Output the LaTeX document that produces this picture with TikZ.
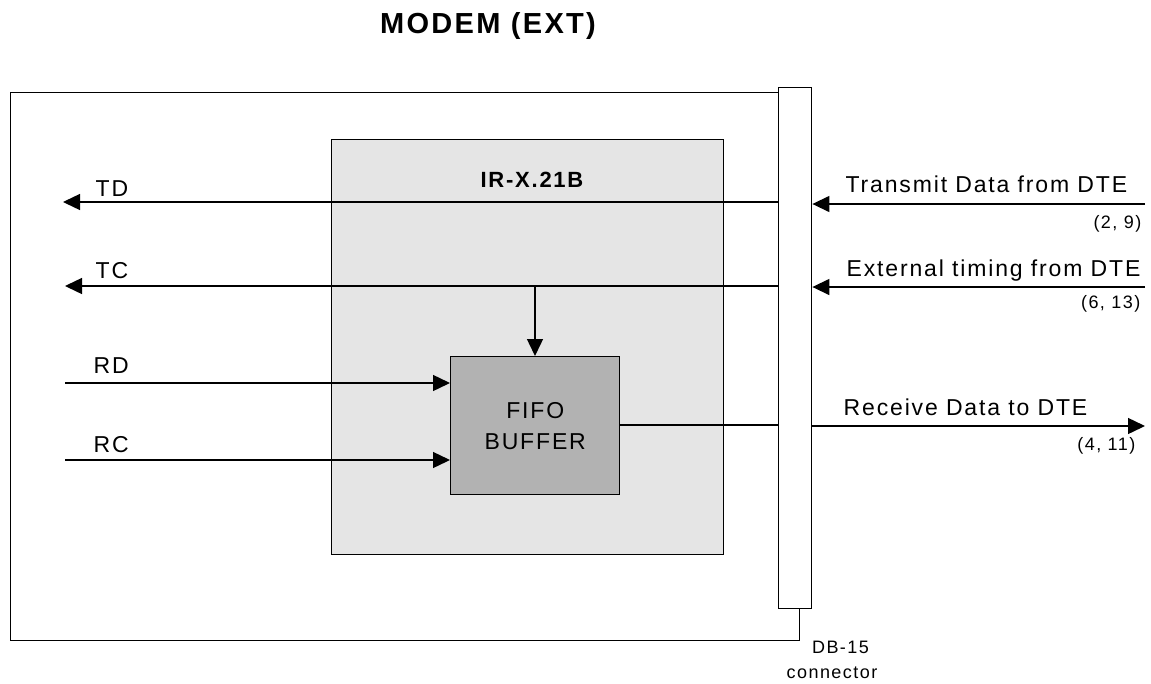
\documentclass[tikz,border=0pt]{standalone}
\usepackage{fontspec}
\setmainfont{Liberation Sans}[LetterSpace=8]
\usetikzlibrary{arrows.meta}

\begin{document}
\begin{tikzpicture}[x=1pt,y=-1pt,line width=1.4pt,
    sig/.style={-{Triangle[length=17pt,width=16pt]}},
    lbl/.style={font=\fontsize{23}{25}\selectfont,inner sep=0pt},
    pinlbl/.style={font=\fontsize{18}{20}\selectfont,inner sep=0pt},
    boxlbl/.style={font=\bfseries\fontsize{22}{24}\selectfont,inner sep=0pt}]
  \useasboundingbox (0,0) rectangle (1151,683);
  % title
  \node[font=\bfseries\fontsize{29}{32}\selectfont,inner sep=0pt,anchor=base] (title) at (488,33) {MODEM (EXT)};
  % modem case
  \node[draw,minimum width=789pt,minimum height=548pt,inner sep=0pt,anchor=north west] (modem) at (10,92) {};
  % interface card
  \node[draw,fill=gray!20,minimum width=392pt,minimum height=415pt,inner sep=0pt,anchor=north west] (irx) at (331,139) {};
  \node[boxlbl,anchor=base] (irxlbl) at (532,187) {IR-X.21B};
  % fifo
  \node[draw,fill=gray!60,minimum width=169pt,minimum height=138pt,inner sep=0pt,anchor=north west,
        align=center,font=\fontsize{23}{31}\selectfont] (fifo) at (450,356) {FIFO\\BUFFER};
  % connector
  \node[draw,fill=white,minimum width=33pt,minimum height=521pt,inner sep=0pt,anchor=north west] (conn) at (778,87) {};
  \node[font=\fontsize{18}{25}\selectfont,inner sep=0pt,anchor=north west,align=center] (connlbl) at (786,640) {\hspace*{17pt}DB-15\\connector};
  % free ends
  \coordinate (tdend) at (63,202);
  \coordinate (tcend) at (65,286);
  \coordinate (rdend) at (65,383);
  \coordinate (rcend) at (65,460);
  \coordinate (txin) at (1145,204);
  \coordinate (tmin) at (1145,287);
  \coordinate (rxout) at (1145,426);
  \coordinate (tctap) at (535,286);
  % modem side
  \draw[sig] (conn.west |- tdend) -- (tdend);
  \draw[sig] (conn.west |- tcend) -- (tcend);
  \draw[sig] (tctap) -- (fifo.north -| tctap);
  \draw[sig] (rdend) -- (fifo.west |- rdend);
  \draw[sig] (rcend) -- (fifo.west |- rcend);
  \draw (fifo.east |- 0,425) -- (conn.west |- 0,425);
  \node[lbl,anchor=base west] (td) at (95,196) {TD};
  \node[lbl,anchor=base west] (tc) at (95,278) {TC};
  \node[lbl,anchor=base west] (rd) at (93,373) {RD};
  \node[lbl,anchor=base west] (rc) at (93,452) {RC};
  % DTE side
  \draw[sig] (txin) -- (conn.east |- txin);
  \draw[sig] (tmin) -- (conn.east |- tmin);
  \draw[sig] (conn.east |- rxout) -- (rxout);
  \node[lbl,anchor=base west] (txlbl) at (845,192) {Transmit Data from DTE};
  \node[lbl,anchor=base west] (tmlbl) at (846,276) {External timing from DTE};
  \node[lbl,anchor=base west] (rxlbl) at (843,415) {Receive Data to DTE};
  \node[pinlbl,anchor=base east] (txpin) at (1142,228) {(2, 9)};
  \node[pinlbl,anchor=base east] (tmpin) at (1141,308) {(6, 13)};
  \node[pinlbl,anchor=base east] (rxpin) at (1136,450) {(4, 11)};
\end{tikzpicture}
\end{document}
